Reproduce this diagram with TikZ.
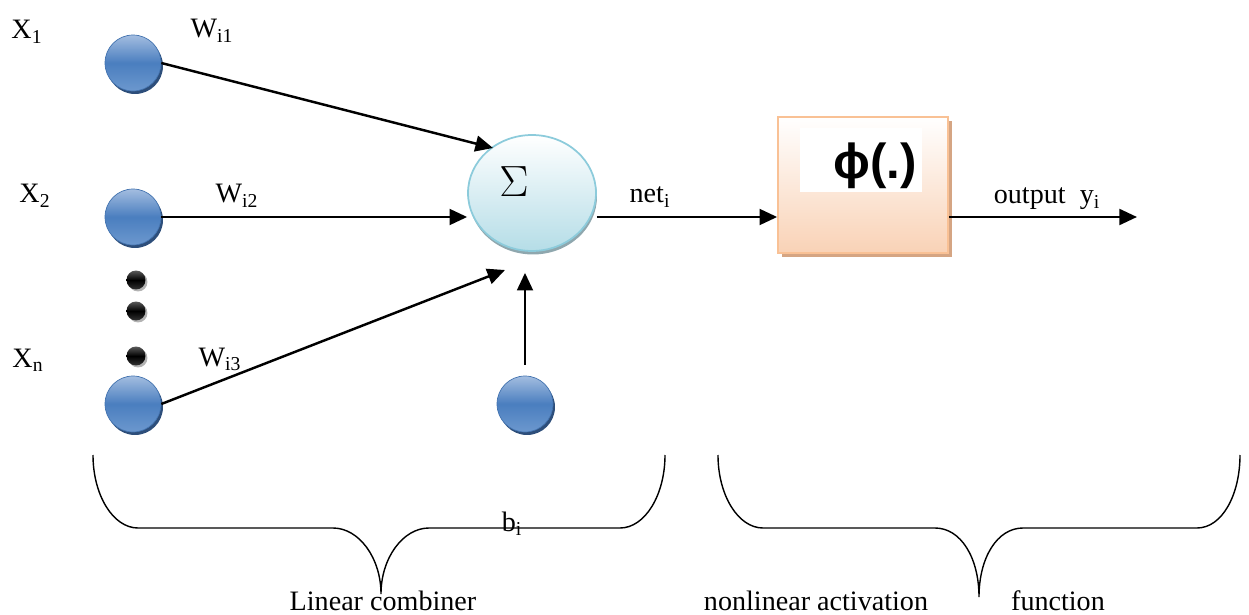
\documentclass[tikz,border=0pt]{standalone}
\usepackage{fontspec}
\setmainfont{Liberation Serif}
\newfontfamily\phifont{Liberation Sans}
\usetikzlibrary{shapes.geometric,shadows,arrows.meta}
\definecolor{balltop}{HTML}{A3BDE0}
\definecolor{ballmid}{HTML}{4A7EBF}
\definecolor{ballbot}{HTML}{6C98CE}
\definecolor{ballline}{HTML}{4474B0}
\definecolor{ballshadow}{HTML}{2D4E7A}
\definecolor{sumline}{HTML}{8CCBDB}
\definecolor{sumbot}{HTML}{B5DDE7}
\definecolor{sumshadow}{HTML}{8FA7AE}
\definecolor{actline}{HTML}{F9C195}
\definecolor{actbot}{HTML}{F9D2B6}
\definecolor{actshadow}{HTML}{D5A583}
\begin{document}
\begin{tikzpicture}[x=0.02cm,y=-0.02cm,
	every node/.style={font=\fontsize{16}{19}\selectfont},
	ball/.style={circle,minimum size=1.12cm,inner sep=0pt,draw=ballline,thin,
		top color=balltop,bottom color=ballbot,middle color=ballmid,
		drop shadow={shadow xshift=0.04cm,shadow yshift=-0.06cm,opacity=1,fill=ballshadow}},
	dotball/.style={circle,minimum size=0.38cm,inner sep=0pt,
		top color=gray!70!black,bottom color=black!80,middle color=black,
		drop shadow={shadow xshift=0.04cm,shadow yshift=-0.04cm,opacity=.6,fill=gray}},
	sumnode/.style={ellipse,minimum width=2.56cm,minimum height=2.32cm,inner sep=0pt,
		draw=sumline,line width=1pt,top color=white,bottom color=sumbot,
		drop shadow={shadow xshift=0.02cm,shadow yshift=-0.07cm,opacity=1,fill=sumshadow}},
	actbox/.style={rectangle,minimum width=3.4cm,minimum height=2.72cm,inner sep=0pt,
		draw=actline,line width=1pt,top color=white,bottom color=actbot,
		drop shadow={shadow xshift=0.08cm,shadow yshift=-0.08cm,opacity=1,fill=actshadow}},
	arr/.style={-{Triangle[length=10pt,width=9pt]},line width=1.4pt},
	brace/.style={line width=0.8pt},
	lbl/.style={anchor=base,inner sep=0pt}]
\useasboundingbox (0,0) rectangle (1249,615);

% inputs
\node[ball] (x1) at (133,63) {};
\node[ball] (x2) at (133,217) {};
\node[ball] (xn) at (133,404) {};
\node[dotball] (d1) at (136,280) {};
\node[dotball] (d2) at (136,311) {};
\node[dotball] (d3) at (136,356) {};
\node[ball] (bias) at (525,404) {};

\node[lbl] (lx1) at (27,39) {X\textsubscript{1}};
\node[lbl] (lx2) at (35,203) {X\textsubscript{2}};
\node[lbl] (lxn) at (28,367) {X\textsubscript{n}};

% summing junction and activation
\node[sumnode] (sum) at (532,193) {};
\node (sig) at (514,182) {\fontsize{25}{28}\selectfont$\Sigma$};
\node[actbox] (act) at (863,185) {};
\node[fill=white,minimum width=2.44cm,minimum height=1.28cm,inner sep=0pt] (phibg) at (861,160) {};
\node (phi) at (875,166) {\phifont\bfseries\fontsize{28}{30}\selectfont ϕ(.)};

% weights
\coordinate (t1) at (493,148);
\coordinate (t3) at (505,270);
\coordinate (out) at (1137,217);
\draw[arr] (x1.east) -- (t1);
\draw[arr] (x2.east) -- (x2.east -| sum.west);
\draw[arr] (xn.east) -- (t3);
\draw[arr,shorten <=0.22cm,shorten >=0.42cm] (bias.north) -- (bias.north |- sum.south);
\draw[arr] (x2 -| sum.east) -- (x2 -| act.west);
\draw[arr] (x2 -| act.east) -- (out);

\node[lbl] (w1) at (212,38) {W\textsubscript{i1}};
\node[lbl] (w2) at (237,203) {W\textsubscript{i2}};
\node[lbl] (w3) at (220,366) {W\textsubscript{i3}};
\node[lbl] (net) at (650,203) {net\textsubscript{i}};
\node[lbl] (yout) at (1047,204) {output\ \ y\textsubscript{i}};
\node[lbl] (bi) at (512,531) {b\textsubscript{i}};

% braces
\draw[brace] (93,455) .. controls (93,495) and (113,528) .. (138,528) -- (333,528)
	.. controls (359,528) and (381,558) .. (381,594)
	.. controls (381,558) and (403,528) .. (429,528) -- (620,528)
	.. controls (645,528) and (665,495) .. (665,455);
\draw[brace] (718,455) .. controls (718,495) and (738,528) .. (763,528) -- (935,528)
	.. controls (961,528) and (979,558) .. (979,597)
	.. controls (979,558) and (997,528) .. (1023,528) -- (1197,528)
	.. controls (1222,528) and (1240,495) .. (1240,455);

\node[lbl] (lin) at (383,610) {Linear combiner};
\node[lbl] (nla) at (816,610) {nonlinear activation};
\node[lbl] (fun) at (1058,610) {function};
\end{tikzpicture}
\end{document}
